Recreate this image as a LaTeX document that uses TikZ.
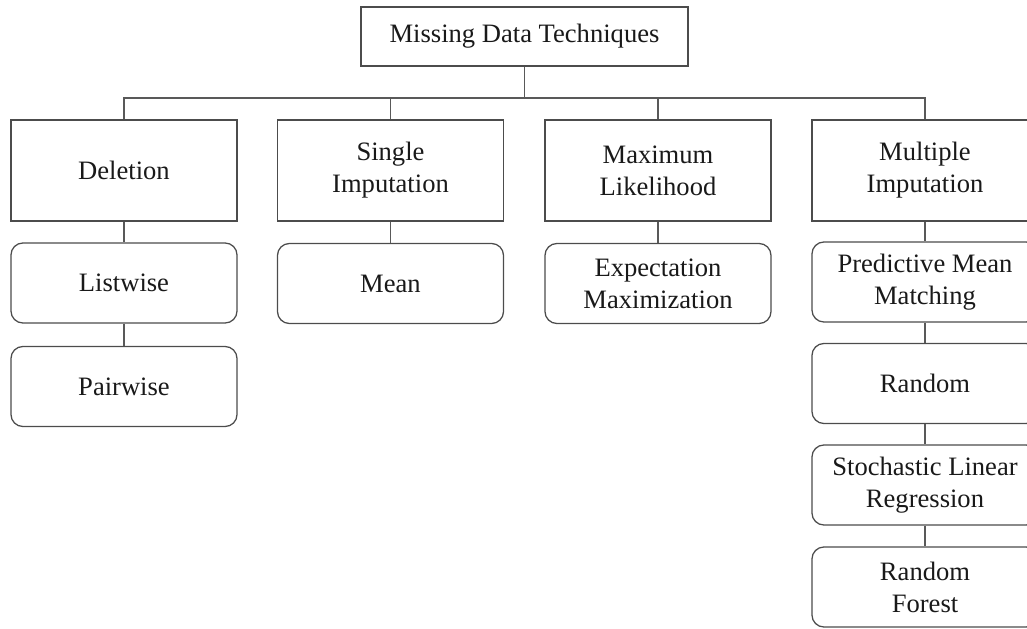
\documentclass[tikz,border=0pt]{standalone}
\usepackage{fontspec}
\setmainfont{Liberation Serif}
\usetikzlibrary{positioning}
\tikzset{
	box/.style = {draw=black!70, line width=0.9pt, align=center, text=black!90,
			font=\fontsize{18.9}{22.7}\selectfont, inner sep=0pt},
	topbox/.style = {box, minimum width=8.175cm, minimum height=1.475cm},
	catbox/.style = {box, minimum width=5.65cm, minimum height=2.525cm},
	leafbox/.style = {box, rounded corners=0.3cm, minimum width=5.65cm, minimum height=2cm},
	link/.style = {draw=black!65, line width=0.8pt}
}

\begin{document}
\begin{tikzpicture}[x=0.025cm, y=-0.025cm]
					\useasboundingbox (0,0) rectangle (1027,629);
					\clip (0,0) rectangle (1027,629);
					% ====== Root ========
					\node[topbox] (top) at (524.5,36.5) {Missing Data Techniques};
					\coordinate (bus) at (524.5,98);
					% ====== Categories ========
					\node[catbox] (del) at (124,170.5) {Deletion};
					\node[catbox] (sing) at (390.5,170.5) {Single\\Imputation};
					\node[catbox] (maxl) at (658,170.5) {Maximum\\Likelihood};
					\node[catbox] (mult) at (925,170.5) {Multiple\\Imputation};
					% ====== Methods ========
					\node[leafbox] (list) at (124,283) {Listwise};
					\node[leafbox] (pair) at (124,386.5) {Pairwise};
					\node[leafbox] (mean) at (390.5,283.5) {Mean};
					\node[leafbox] (expm) at (658,283.5) {Expectation\\Maximization};
					\node[leafbox] (pmm) at (925,282) {Predictive Mean\\Matching};
					\node[leafbox] (rand) at (925,383.5) {Random};
					\node[leafbox] (slr) at (925,485) {Stochastic Linear\\Regression};
					\node[leafbox] (rf) at (925,587) {Random\\Forest};
					% ====== Links ========
					\draw[link] (top) -- (bus);
					\foreach \n in {del,sing,maxl,mult} {\draw[link] (\n.north) |- (bus);}
					\draw[link] (del) -- (list);
					\draw[link] (list) -- (pair);
					\draw[link] (sing) -- (mean);
					\draw[link] (maxl) -- (expm);
					\draw[link] (mult) -- (pmm);
					\draw[link] (pmm) -- (rand);
					\draw[link] (rand) -- (slr);
					\draw[link] (slr) -- (rf);
				\end{tikzpicture}
\end{document}
